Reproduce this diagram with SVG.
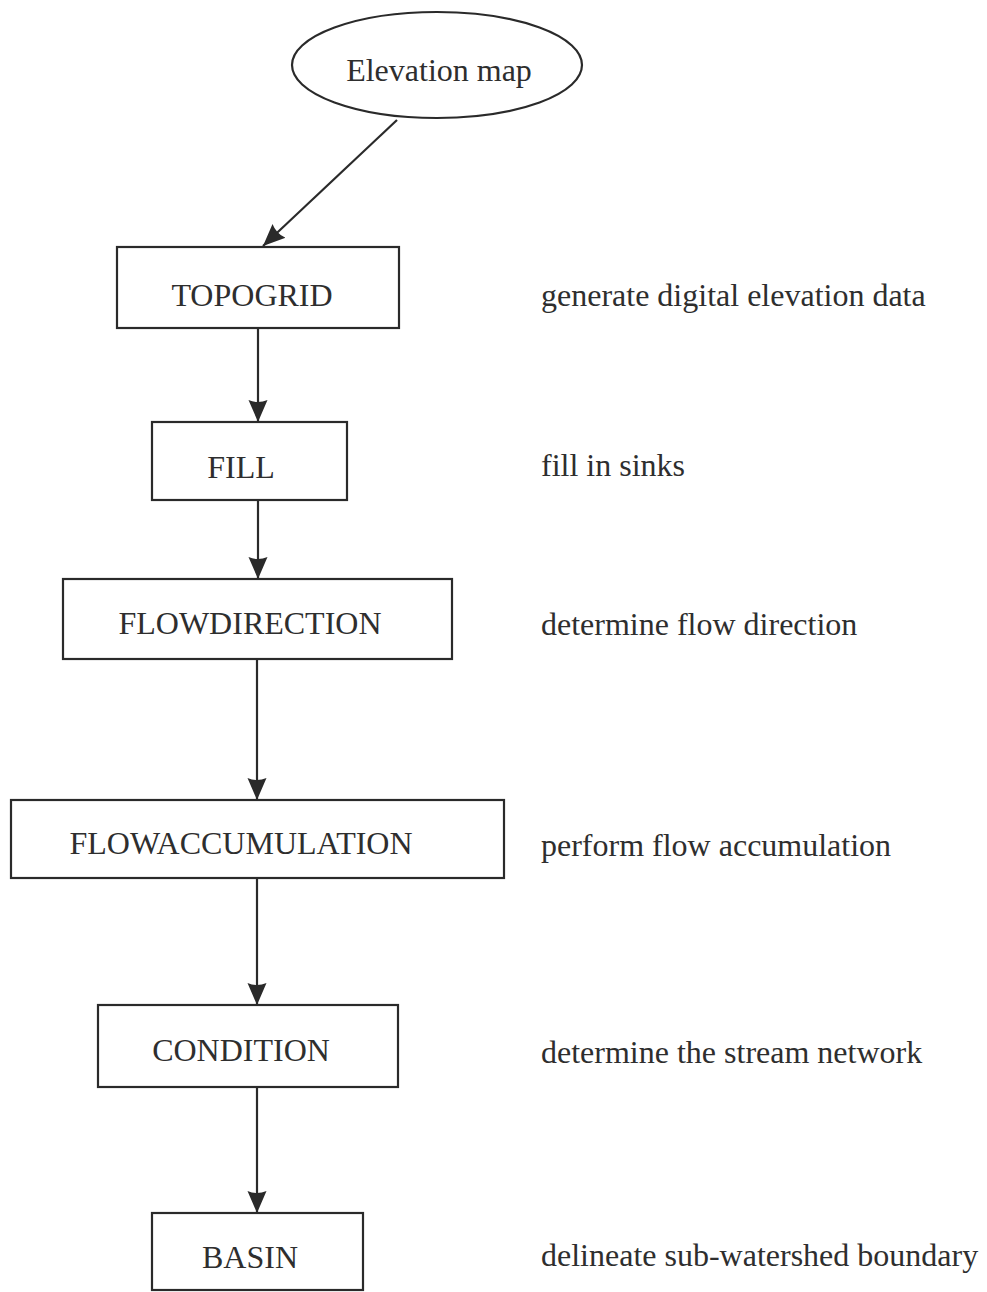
<svg xmlns="http://www.w3.org/2000/svg" width="987" height="1292" viewBox="0 0 987 1292">
<style>
.box{fill:#fff;stroke:#2a2a2a;stroke-width:2.2}
.t{font-family:"Liberation Serif","Times New Roman",serif;font-size:32px;fill:#2e2e2e}
.c{text-anchor:middle}
.edge{stroke:#2a2a2a;stroke-width:2.2;fill:none;marker-end:url(#ah)}
</style>
<defs>
<marker id="ah" markerUnits="userSpaceOnUse" markerWidth="24" markerHeight="22" viewBox="0 0 24 22" refX="22" refY="11" orient="auto">
<path d="M0,1.5 Q4,11 0,20.5 L22,11 Z" fill="#2a2a2a"/>
</marker>
</defs>
<rect width="987" height="1292" fill="#fff"/>
<g id="connectors">
<line class="edge" x1="397" y1="120" x2="263" y2="246"/>
<line class="edge" x1="258" y1="328" x2="258" y2="422"/>
<line class="edge" x1="258" y1="500" x2="258" y2="579"/>
<line class="edge" x1="257" y1="659" x2="257" y2="800"/>
<line class="edge" x1="257" y1="878" x2="257" y2="1005"/>
<line class="edge" x1="257" y1="1087" x2="257" y2="1213"/>
</g>
<g id="elevation-map">
<ellipse class="box" cx="437" cy="65" rx="145" ry="53"/>
<text class="t c" x="439" y="81">Elevation map</text>
</g>
<g id="topogrid">
<rect class="box" x="117" y="247" width="282" height="81"/>
<text class="t c" x="252" y="306">TOPOGRID</text>
</g>
<g id="fill">
<rect class="box" x="152" y="422" width="195" height="78"/>
<text class="t c" x="241" y="478">FILL</text>
</g>
<g id="flowdirection">
<rect class="box" x="63" y="579" width="389" height="80"/>
<text class="t c" x="250" y="634">FLOWDIRECTION</text>
</g>
<g id="flowaccumulation">
<rect class="box" x="11" y="800" width="493" height="78"/>
<text class="t c" x="241" y="854">FLOWACCUMULATION</text>
</g>
<g id="condition">
<rect class="box" x="98" y="1005" width="300" height="82"/>
<text class="t c" x="241" y="1061">CONDITION</text>
</g>
<g id="basin">
<rect class="box" x="152" y="1213" width="211" height="77"/>
<text class="t c" x="250" y="1268">BASIN</text>
</g>
<g id="descriptions">
<text class="t" x="541" y="306">generate digital elevation data</text>
<text class="t" x="541" y="476">fill in sinks</text>
<text class="t" x="541" y="635">determine flow direction</text>
<text class="t" x="541" y="856">perform flow accumulation</text>
<text class="t" x="541" y="1063">determine the stream network</text>
<text class="t" x="541" y="1266">delineate sub-watershed boundary</text>
</g>
</svg>
